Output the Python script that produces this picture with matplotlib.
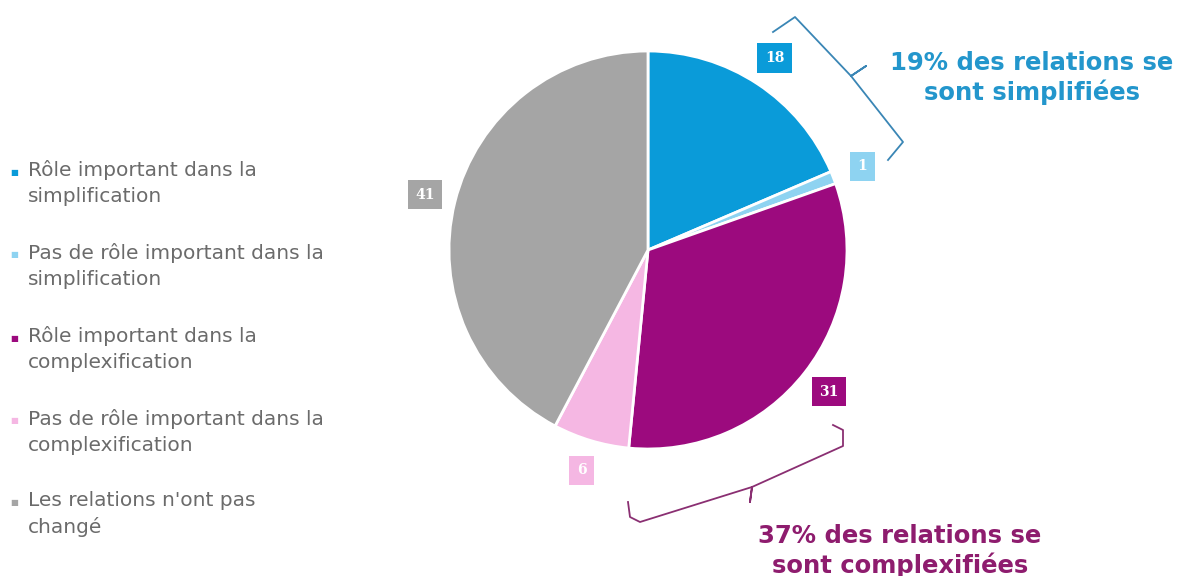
import matplotlib.pyplot as plt
from matplotlib.lines import Line2D

plt.rcParams['font.family'] = 'DejaVu Sans'

# data
categories = ['Rôle important dans la\nsimplification',
              'Pas de rôle important dans la\nsimplification',
              'Rôle important dans la\ncomplexification',
              'Pas de rôle important dans la\ncomplexification',
              "Les relations n'ont pas\nchangé"]
values = [18, 1, 31, 6, 41]
colors = ['#0A9BD9', '#8ED3F1', '#9C0A7E', '#F5B7E3', '#A5A5A5']
note_simpl = '19% des relations se\nsont simplifiées'
note_compl = '37% des relations se\nsont complexifiées'

W, H = 1181, 576
fig = plt.figure(figsize=(W / 100, H / 100), dpi=100)

def fx(px):
    return px / W

def fy(py):
    return 1 - py / H

# pie axes centred at (648, 250) px, radius ~199 px
cx, cy, r = 648, 250, 199
ax = fig.add_axes([fx(cx - r), fy(cy + r), 2 * r / W, 2 * r / H])
wedges, texts = ax.pie(values, colors=colors, startangle=90, counterclock=False,
                       labels=[str(v) for v in values], labeldistance=1.155,
                       wedgeprops=dict(edgecolor='white', linewidth=2))
for t, c in zip(texts, colors):
    t.set_ha('center')
    t.set_va('center')
    t.set_color('white')
    t.set_fontsize(10)
    t.set_fontweight('bold')
    t.set_family('DejaVu Serif')
    t.set_bbox(dict(boxstyle='square,pad=0.55', fc=c, ec='none'))
ax.set_xlim(-1, 1)
ax.set_ylim(-1, 1)
ax.set_aspect('auto')
ax.axis('off')

# legend (marker aligned with first line)
leg_y = [172, 255, 338, 421, 503]
for lab, col, y in zip(categories, colors, leg_y):
    fig.text(fx(10), fy(y), '■', color=col, fontsize=6, va='center', ha='left')
    fig.text(fx(28), fy(y - 12), lab, color='#6B6B6B', fontsize=14.5,
             va='top', ha='left', linespacing=1.45)

# braces
top_brace = [(773, 32), (795, 17), (851, 76), (866, 66), (851, 76),
             (903, 142), (888, 160)]
bot_brace = [(833, 425), (843, 430), (843, 446), (752, 487), (750, 502),
             (752, 487), (640, 522), (630, 517), (628, 502)]
for pts, col in [(top_brace, '#3A86B5'), (bot_brace, '#8A2F72')]:
    xs = [fx(p[0]) for p in pts]
    ys = [fy(p[1]) for p in pts]
    fig.add_artist(Line2D(xs, ys, color=col, linewidth=1.3,
                          transform=fig.transFigure))

fig.text(fx(1032), fy(78), note_simpl, color='#2396CC', fontsize=17.5,
         fontweight='bold', ha='center', va='center', linespacing=1.2)
fig.text(fx(900), fy(551), note_compl, color='#8E1C6E', fontsize=17.5,
         fontweight='bold', ha='center', va='center', linespacing=1.2)

fig.savefig('out.png', dpi=100, facecolor='white')
